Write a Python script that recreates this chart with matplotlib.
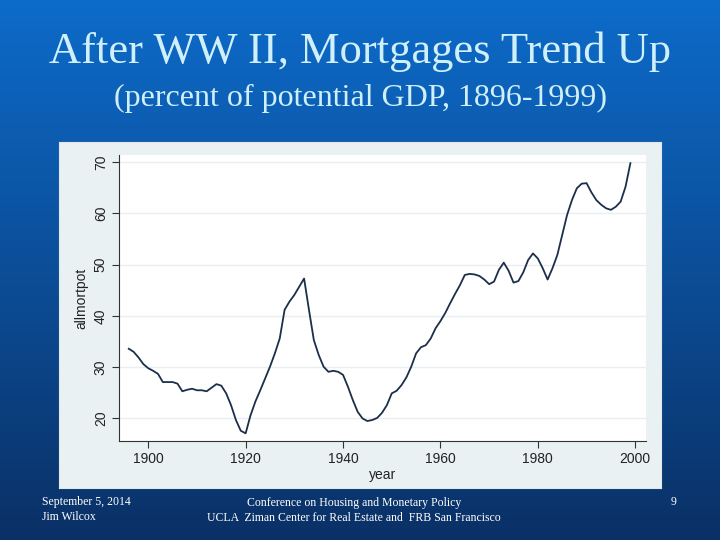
# coding=utf-8
""" Slide: mortgage debt as a share of potential GDP, 1896-1999. """
from matplotlib import pyplot as plt
import numpy as np

# Years and values
years = np.arange(1896, 2000)
allmortpot = [
    33.6, 33.0, 31.9, 30.6, 29.8, 29.3, 28.7, 27.1, 27.1, 27.1,  # 1896-1905
    26.8, 25.3, 25.6, 25.8, 25.5, 25.5, 25.3, 26.0, 26.7, 26.4,  # 1906-1915
    24.9, 22.6, 19.7, 17.6, 17.1, 20.6, 23.3, 25.5, 27.8, 30.1,  # 1916-1925
    32.7, 35.6, 41.2, 42.8, 44.1, 45.7, 47.3, 41.2, 35.3, 32.4,  # 1926-1935
    30.1, 29.1, 29.3, 29.1, 28.5, 26.2, 23.6, 21.3, 20.0, 19.5,  # 1936-1945
    19.7, 20.1, 21.1, 22.6, 24.9, 25.4, 26.5, 28.0, 30.1, 32.7,  # 1946-1955
    33.9, 34.3, 35.6, 37.6, 39.0, 40.6, 42.5, 44.3, 46.0, 48.0,  # 1956-1965
    48.2, 48.1, 47.8, 47.1, 46.2, 46.7, 49.0, 50.4, 48.8, 46.5,  # 1966-1975
    46.8, 48.5, 50.9, 52.2, 51.2, 49.3, 47.1, 49.3, 51.9, 55.8,  # 1976-1985
    59.7, 62.6, 64.9, 65.8, 65.9, 64.1, 62.6, 61.7, 61.0, 60.7,  # 1986-1995
    61.3, 62.3, 65.2, 69.8,                                      # 1996-1999
]
x_ticks = [1900, 1920, 1940, 1960, 1980, 2000]
y_ticks = [20, 30, 40, 50, 60, 70]

title = "After WW II, Mortgages Trend Up"
subtitle = "(percent of potential GDP, 1896-1999)"
footer_left = "September 5, 2014\nJim Wilcox"
footer_center = "Conference on Housing and Monetary Policy\nUCLA  Ziman Center for Real Estate and  FRB San Francisco"
footer_right = "9"

plt.rcParams['font.family'] = ['Liberation Sans', 'DejaVu Sans']
serif = ['Liberation Serif', 'DejaVu Serif']

fig = plt.figure(figsize=(7.2, 5.4), dpi=100)

# Blue slide background, brighter on top
bg = fig.add_axes([0, 0, 1, 1], zorder=-10)
top = np.array([0.05, 0.42, 0.79])
bottom = np.array([0.04, 0.19, 0.40])
t = np.linspace(0, 1, 256)[:, None, None]
grad = top * (1 - t) + bottom * t
bg.imshow(np.repeat(grad, 2, axis=1), aspect='auto', extent=[0, 1, 0, 1])
bg.set_xlim(0, 1)
bg.set_ylim(0, 1)
bg.axis('off')

# Slide title and subtitle
fig.text(0.5, 0.905, title, ha='center', va='center', fontsize=32,
         color='#cff0fa', family=serif)
fig.text(0.5, 0.818, subtitle, ha='center', va='center', fontsize=23,
         color='#cff0fa', family=serif)

# Footer
fig.text(0.058, 0.057, footer_left, ha='left', va='center', fontsize=8.5,
         color='white', family=serif, linespacing=1.3)
fig.text(0.492, 0.055, footer_center, ha='center', va='center', fontsize=8.5,
         color='white', family=serif, linespacing=1.3)
fig.text(0.935, 0.070, footer_right, ha='center', va='center', fontsize=8.5,
         color='white', family=serif)

# Light Stata-like graph region
panel = fig.add_axes([0.082, 0.0963, 0.836, 0.6407], zorder=-5)
panel.set_facecolor('#eaf1f3')
panel.set_xticks([])
panel.set_yticks([])
for s in panel.spines.values():
    s.set_color('#dfe8ec')

ax = fig.add_axes([0.1653, 0.1833, 0.7319, 0.5297])
ax.set_facecolor('white')
ax.plot(years, allmortpot, color='#1c2f4a', lw=1.3)
ax.set_xlim(1894, 2002.2)
ax.set_ylim(15.6, 71.4)
ax.set_xticks(x_ticks)
ax.set_yticks(y_ticks)
ax.set_yticklabels([str(v) for v in y_ticks], rotation=90, va='center')
ax.grid(axis='y', color='#e9eff1', lw=1.0)
ax.set_axisbelow(True)
ax.tick_params(colors='#333333', labelsize=10, length=5, width=0.8, pad=3)
ax.tick_params(axis='x', labelcolor='#222222')
ax.tick_params(axis='y', labelcolor='#222222')
for side in ['top', 'right']:
    ax.spines[side].set_visible(False)
for side in ['left', 'bottom']:
    ax.spines[side].set_color('#333333')
    ax.spines[side].set_linewidth(0.8)
ax.set_xlabel('year', fontsize=10, color='#222222', labelpad=1)
ax.set_ylabel('allmortpot', fontsize=10, color='#222222', labelpad=4)

fig.savefig('out.png', dpi=100)
